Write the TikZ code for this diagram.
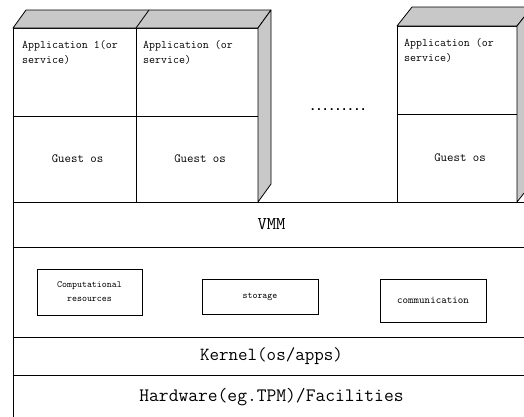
\documentclass[tikz,border=0pt]{standalone}
\usepackage{fontspec}
\renewcommand{\familydefault}{\ttdefault}
\newfontfamily\dotsfont{DejaVu Sans Mono}
\usetikzlibrary{positioning}

\definecolor{facegray}{RGB}{200,200,200}

\tikzset{
    box/.style={draw, line width=0.8pt, outer sep=0pt, inner sep=0pt},
    appcell/.style={box, anchor=north west, minimum height=88pt},
    oscell/.style={box, minimum height=86pt, font=\fontsize{12.5}{14}\selectfont},
    apptext/.style={anchor=north west, align=left, inner sep=0pt,
        font=\fontsize{11.6}{15}\selectfont},
    layer/.style={box, minimum width=517pt},
    res/.style={box, align=center, font=\fontsize{9.5}{14}\selectfont},
    face/.style={fill=facegray, draw, line width=0.8pt, line join=round},
}

\begin{document}
\begin{tikzpicture}[x=1pt, y=-1pt]
    \useasboundingbox (0,0) rectangle (524,416);

    % virtual machines
    \node[appcell, minimum width=123pt] (app1) at (13,28) {};
    \node[appcell, minimum width=122pt, right=0pt of app1] (app2) {};
    \node[appcell, minimum width=120pt] (app3) at (397,26) {};
    \node[oscell, minimum width=123pt, below=0pt of app1] (os1) {\hspace{6pt}Guest os};
    \node[oscell, minimum width=122pt, below=0pt of app2] (os2) {\hspace{6pt}Guest os};
    \node[oscell, minimum width=120pt, minimum height=88pt, below=0pt of app3] (os3) {\hspace{6pt}Guest os};

    \node[apptext] at ([shift={(9,12)}]app1.north west) {Application 1(or\\service)};
    \node[apptext] at ([shift={(7,12)}]app2.north west) {Application (or\\service)};
    \node[apptext] at ([shift={(7,12)}]app3.north west) {Application (or\\service)};

    \filldraw[face] (app1.north west) -- ++(13,-18) -- ([shift={(13,-18)}]app2.north east)
        -- (app2.north east) -- cycle;
    \draw[line width=0.8pt] (app1.north east) -- ++(13,-18);
    \filldraw[face] (app2.north east) -- ++(13,-18) -- ([shift={(13,-18)}]os2.south east)
        -- (os2.south east) -- cycle;

    \filldraw[face] (app3.north west) -- ++(15,-19) -- ([shift={(15,-19)}]app3.north east)
        -- (app3.north east) -- cycle;
    \filldraw[face] (app3.north east) -- ++(15,-19) -- ([shift={(15,-19)}]os3.south east)
        -- (os3.south east) -- cycle;

    \node[font=\dotsfont\bfseries\fontsize{10.5}{12}\selectfont] (dots) at (338,110) {.........};

    % layers
    \node[layer, anchor=north west, minimum height=45pt,
        font=\fontsize{18}{20}\selectfont] (vmm) at (13,202) {\raisebox{-3pt}{VMM}};
    \node[layer, minimum height=90pt, below=0pt of vmm] (resources) {};
    \node[layer, minimum height=38pt, below=0pt of resources,
        font=\fontsize{18.5}{20}\selectfont] (kernel) {\raisebox{-2pt}{Kernel(os/apps)}};
    \node[layer, minimum height=45pt, below=0pt of kernel,
        font=\fontsize{19}{21}\selectfont] (hardware) {\raisebox{1pt}{Hardware(eg.TPM)/Facilities}};

    \node[res, minimum width=105pt, minimum height=46pt] (comp) at (89.5,292) {Computational\\resources};
    \node[res, minimum width=116pt, minimum height=35pt] (storage) at (260,296.5) {storage};
    \node[res, minimum width=106pt, minimum height=43pt,
        font=\fontsize{10.5}{12}\selectfont] (comm) at (433,300.5) {communication};
\end{tikzpicture}
\end{document}
